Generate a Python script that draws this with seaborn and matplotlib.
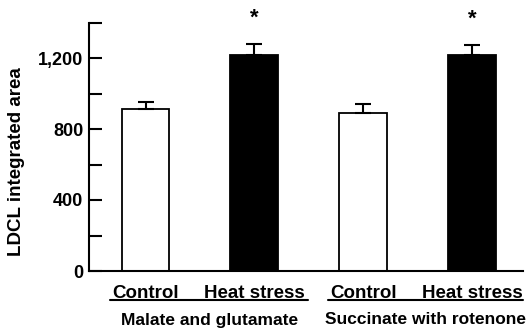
import matplotlib
matplotlib.use("Agg")
import matplotlib.pyplot as plt
import matplotlib.transforms as mtransforms
from matplotlib.ticker import FixedLocator
import seaborn as sns
import pandas as pd

# ---- data ----
bar_keys = ["MG-Control", "MG-Heat", "SR-Control", "SR-Heat"]
conditions = ["Control", "Heat stress", "Control", "Heat stress"]
values = [911, 1217, 892, 1217]
errors = [39, 62, 50, 56]
significant = [False, True, False, True]
tick_labels = ["Control", "Heat stress", "Control", "Heat stress"]
group_labels = ["Malate and glutamate", "Succinate with rotenone"]
y_ticks = [0, 400, 800, 1200]
y_tick_labels = ["0", "400", "800", "1,200"]

df = pd.DataFrame({"key": bar_keys, "condition": conditions, "value": values})

sns.set_style("white")
plt.rcParams["font.family"] = ["Liberation Sans", "DejaVu Sans"]
plt.rcParams["font.weight"] = "bold"
for k in ["text.color", "axes.labelcolor", "xtick.color", "ytick.color",
          "axes.edgecolor"]:
    plt.rcParams[k] = "black"

fig = plt.figure(figsize=(5.28, 3.32), dpi=100)
ax = fig.add_axes([89 / 528, 1 - 271 / 332, 434 / 528, 248.5 / 332])

sns.barplot(data=df, x="key", y="value", hue="condition",
            palette={"Control": "white", "Heat stress": "black"},
            edgecolor="black", linewidth=1.3, dodge=False, width=0.44,
            legend=False, errorbar=None, ax=ax)

xs = list(range(len(bar_keys)))
ax.errorbar(xs, values, yerr=[[0] * len(values), errors], fmt="none",
            ecolor="black", elinewidth=1.5, capsize=6, capthick=1.5, zorder=1)

for x, v, e, s in zip(xs, values, errors, significant):
    if s:
        ax.text(x, v + e + 85, "*", ha="center", va="bottom",
                fontsize=16, fontweight="bold", color="black")

ax.set_xlim(-0.52, 3.47)
ax.set_ylim(0, 1400)
ax.set_yticks(y_ticks)
ax.set_yticklabels(y_tick_labels, fontsize=13, fontweight="bold")
ax.yaxis.set_minor_locator(FixedLocator([200, 600, 1000, 1400]))
ax.tick_params(axis="y", which="both", direction="in", length=9, width=1.5,
               left=True, pad=4, colors="black")
ax.set_xticks(xs)
ax.set_xticklabels(tick_labels, fontsize=13.5, fontweight="bold")
ax.tick_params(axis="x", length=0, pad=10, colors="black")
ax.set_xlabel("")
ax.set_ylabel("LDCL integrated area", fontsize=13.5, fontweight="bold",
              color="black")
ax.yaxis.set_label_coords(-64 / 434, 0.44)

sns.despine(ax=ax)
for sp in ["left", "bottom"]:
    ax.spines[sp].set_linewidth(1.5)
    ax.spines[sp].set_color("black")

# group underlines and labels
trans = mtransforms.blended_transform_factory(ax.transData, fig.transFigure)
spans = [(-0.327, 1.495), (1.679, 3.473)]
for (a, b), lab in zip(spans, group_labels):
    ax.plot([a, b], [1 - 300 / 332] * 2, color="black", lw=1.5,
            transform=trans, clip_on=False)
    ax.text((a + b) / 2, 1 - 320 / 332, lab, transform=trans, ha="center",
            va="center", fontsize=12.5, fontweight="bold", color="black")

fig.savefig("out.png", dpi=100)
